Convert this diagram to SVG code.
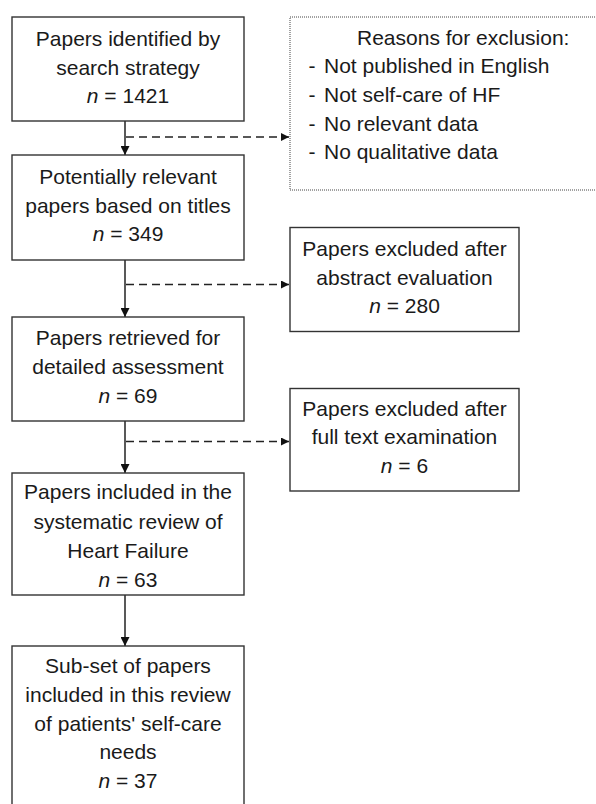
<svg xmlns="http://www.w3.org/2000/svg" width="596" height="804" viewBox="0 0 596 804">
<defs>
<style>
.box{fill:#fff;stroke:#333;stroke-width:1.4}
.dot{fill:#fff;stroke:#444;stroke-width:1;stroke-dasharray:1,1}
text{font-family:"Liberation Sans",Arial,sans-serif;font-size:21px;fill:#1a1a1a}
.c{text-anchor:middle}
.n{font-style:italic}
.solid{stroke:#222;stroke-width:1.5;fill:none}
.dash{stroke:#222;stroke-width:1.4;fill:none;stroke-dasharray:8,5}
</style>
<marker id="ah" viewBox="0 0 10 10" refX="10" refY="5" markerWidth="8" markerHeight="8" markerUnits="userSpaceOnUse" orient="auto">
<path d="M0,0 L10,5 L0,10 Z" fill="#111"/>
</marker>
<marker id="ahs" viewBox="0 0 10 10" refX="10" refY="5" markerWidth="9" markerHeight="9" markerUnits="userSpaceOnUse" orient="auto">
<path d="M0,0 L10,5 L0,10 Z" fill="#111"/>
</marker>
</defs>
<rect width="596" height="804" fill="#fff"/>

<g id="connectors">
<line class="solid" x1="125" y1="121" x2="125" y2="155" marker-end="url(#ahs)"/>
<line class="solid" x1="125" y1="260" x2="125" y2="317" marker-end="url(#ahs)"/>
<line class="solid" x1="125" y1="421" x2="125" y2="473" marker-end="url(#ahs)"/>
<line class="solid" x1="125" y1="595" x2="125" y2="646" marker-end="url(#ahs)"/>
<line class="dash" x1="126" y1="137" x2="289" y2="137" marker-end="url(#ah)"/>
<line class="dash" x1="126" y1="284.5" x2="289" y2="284.5" marker-end="url(#ah)"/>
<line class="dash" x1="126" y1="441.5" x2="289" y2="441.5" marker-end="url(#ah)"/>
</g>

<g id="n1">
<rect class="box" x="12" y="17" width="232" height="104"/>
<text class="c" x="128" y="45.7">Papers identified by</text>
<text class="c" x="128" y="74.5">search strategy</text>
<text class="c" x="128" y="102.7"><tspan class="n">n</tspan> = 1421</text>
</g>

<g id="exclusion-reasons">
<rect class="dot" x="290" y="17" width="320" height="173"/>
<text x="357" y="45">Reasons for exclusion:</text>
<text x="308.5" y="72.7">-<tspan x="324">Not published in English</tspan></text>
<text x="308.5" y="101.7">-<tspan x="324">Not self-care of HF</tspan></text>
<text x="308.5" y="130.7">-<tspan x="324">No relevant data</tspan></text>
<text x="308.5" y="159.3">-<tspan x="324">No qualitative data</tspan></text>
</g>

<g id="n2">
<rect class="box" x="12" y="155" width="232" height="105"/>
<text class="c" x="128" y="184">Potentially relevant</text>
<text class="c" x="128" y="213">papers based on titles</text>
<text class="c" x="128" y="241.3"><tspan class="n">n</tspan> = 349</text>
</g>

<g id="excl-abstract">
<rect class="box" x="290" y="227.5" width="229" height="104"/>
<text class="c" x="404.5" y="256">Papers excluded after</text>
<text class="c" x="404.5" y="285">abstract evaluation</text>
<text class="c" x="404.5" y="313"><tspan class="n">n</tspan> = 280</text>
</g>

<g id="n3">
<rect class="box" x="12" y="317" width="232" height="104"/>
<text class="c" x="128" y="345">Papers retrieved for</text>
<text class="c" x="128" y="373.5">detailed assessment</text>
<text class="c" x="128" y="402.5"><tspan class="n">n</tspan> = 69</text>
</g>

<g id="excl-fulltext">
<rect class="box" x="290" y="388.5" width="229" height="102.5"/>
<text class="c" x="404.5" y="415.7">Papers excluded after</text>
<text class="c" x="404.5" y="444.3">full text examination</text>
<text class="c" x="404.5" y="472.7"><tspan class="n">n</tspan> = 6</text>
</g>

<g id="n4">
<rect class="box" x="12" y="473" width="232" height="122"/>
<text class="c" x="128" y="499.3">Papers included in the</text>
<text class="c" x="128" y="529.3">systematic review of</text>
<text class="c" x="128" y="558.3">Heart Failure</text>
<text class="c" x="128" y="587.3"><tspan class="n">n</tspan> = 63</text>
</g>

<g id="n5">
<rect class="box" x="12" y="646" width="232" height="170"/>
<text class="c" x="128" y="672.7">Sub-set of papers</text>
<text class="c" x="128" y="701.7">included in this review</text>
<text class="c" x="128" y="730.7">of patients' self-care</text>
<text class="c" x="128" y="759.3">needs</text>
<text class="c" x="128" y="788"><tspan class="n">n</tspan> = 37</text>
</g>
</svg>
